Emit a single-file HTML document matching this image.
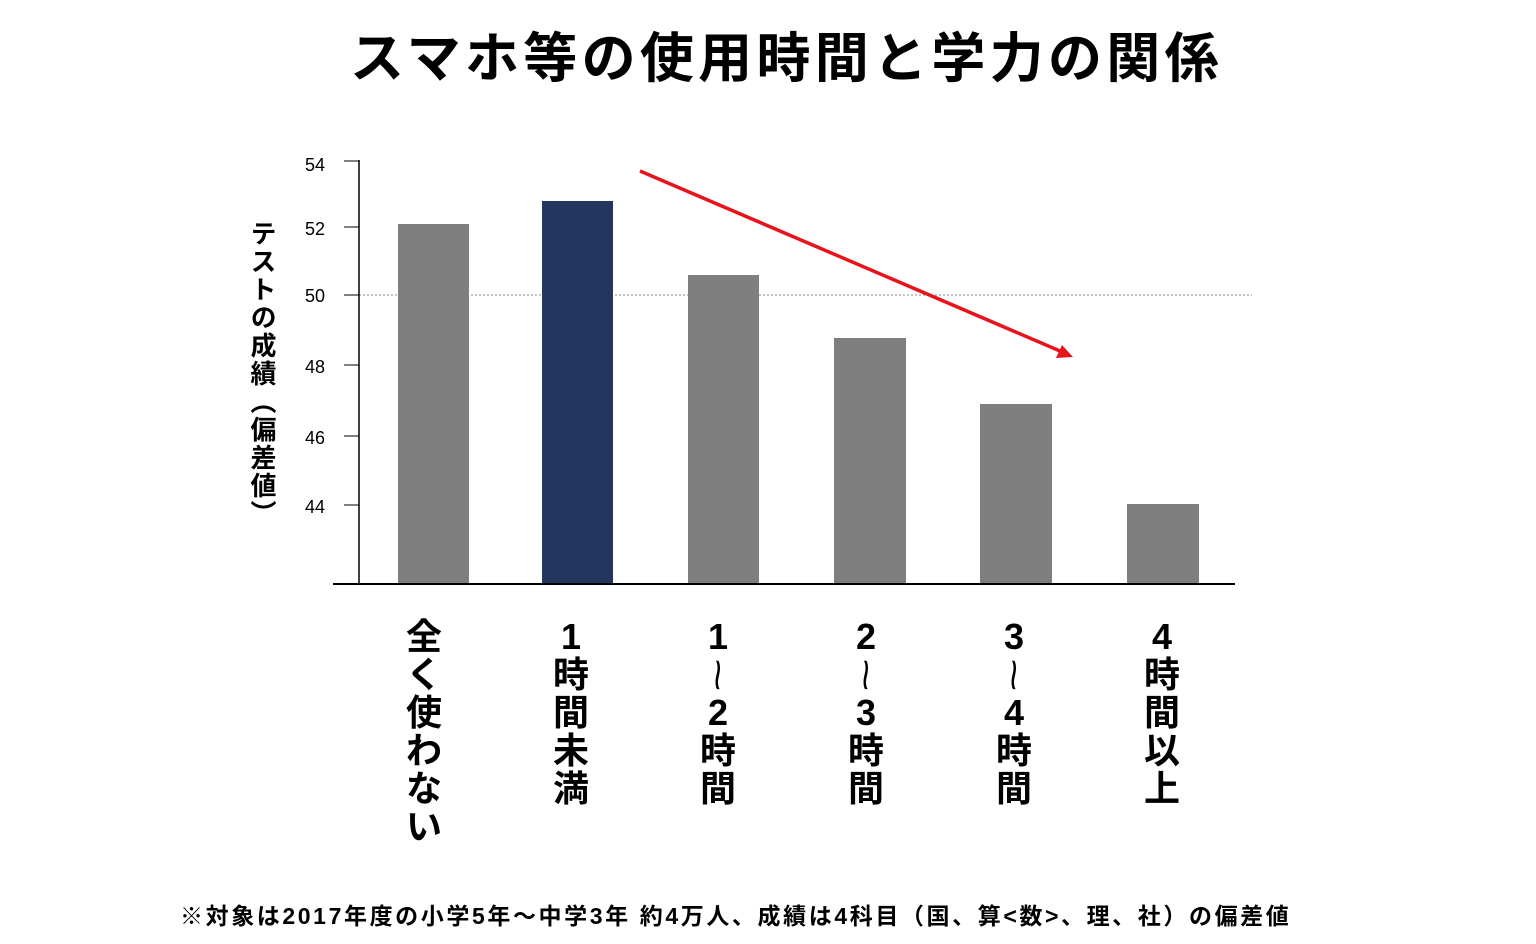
<!DOCTYPE html>
<html><head><meta charset="utf-8"><style>
body{margin:0;width:1536px;height:944px;background:#fff;position:relative;overflow:hidden;font-family:"Liberation Sans","Noto Sans CJK JP",sans-serif;}
.t{position:absolute;white-space:nowrap;}
.col{position:absolute;top:618px;width:60px;text-align:center;font-weight:bold;font-size:36px;line-height:38px;color:#000;}
.w{display:inline-block;transform:rotate(90deg) scale(1.6,1);font-weight:normal;}
</style></head><body>
<div class="t" style="left:350px;width:872px;text-align:center;top:24px;font-size:54px;font-weight:bold;line-height:70px;letter-spacing:4.3px;">スマホ等の使用時間と学力の関係</div>
<svg width="1536" height="944" style="position:absolute;left:0;top:0">
<line x1="359" y1="295" x2="1252" y2="295" stroke="#888" stroke-dasharray="2,2" stroke-width="1"/>
<g fill="#7f7f7f">
<rect x="398" y="224" width="71" height="360"/>
<rect x="688" y="275" width="71" height="309"/>
<rect x="834" y="338" width="72" height="246"/>
<rect x="980" y="404" width="72" height="180"/>
<rect x="1127" y="504" width="72" height="80"/>
</g>
<rect x="542" y="201" width="71" height="383" fill="#22365f"/>
<line x1="359" y1="160" x2="359" y2="584" stroke="#000" stroke-width="1.5"/>
<line x1="333" y1="584" x2="1235" y2="584" stroke="#000" stroke-width="2"/>
<g stroke="#000" stroke-width="1">
<line x1="344" y1="161" x2="359" y2="161"/><line x1="344" y1="227" x2="359" y2="227"/>
<line x1="344" y1="295" x2="359" y2="295"/><line x1="344" y1="365" x2="359" y2="365"/>
<line x1="344" y1="436" x2="359" y2="436"/><line x1="344" y1="505" x2="359" y2="505"/>
</g>
<g font-size="18" fill="#000" text-anchor="end" font-family="Liberation Sans, sans-serif">
<text x="325" y="171">54</text><text x="325" y="235">52</text><text x="325" y="302">50</text>
<text x="325" y="373">48</text><text x="325" y="444">46</text><text x="325" y="513">44</text>
</g>
<line x1="640" y1="171" x2="1060" y2="351" stroke="#e8141b" stroke-width="3.5"/>
<polygon points="1073,357 1056,358 1062,345" fill="#e8141b"/>
</svg>
<div class="t" style="left:245px;top:220px;writing-mode:vertical-rl;font-size:26px;font-weight:bold;line-height:34px;letter-spacing:2px;">テストの成績（偏差値）</div>
<div class="col" style="left:394px">全<br>く<br>使<br>わ<br>な<br>い</div>
<div class="col" style="left:541px">1<br>時<br>間<br>未<br>満</div>
<div class="col" style="left:688px">1<br><span class="w">~</span><br>2<br>時<br>間</div>
<div class="col" style="left:836px">2<br><span class="w">~</span><br>3<br>時<br>間</div>
<div class="col" style="left:984px">3<br><span class="w">~</span><br>4<br>時<br>間</div>
<div class="col" style="left:1132px">4<br>時<br>間<br>以<br>上</div>
<div class="t" style="left:180px;top:900px;font-size:23px;font-weight:bold;line-height:32px;letter-spacing:2.6px;">※対象は2017年度の小学5年～中学3年 約4万人、成績は4科目（国、算&lt;数&gt;、理、社）の偏差値</div>
</body></html>
